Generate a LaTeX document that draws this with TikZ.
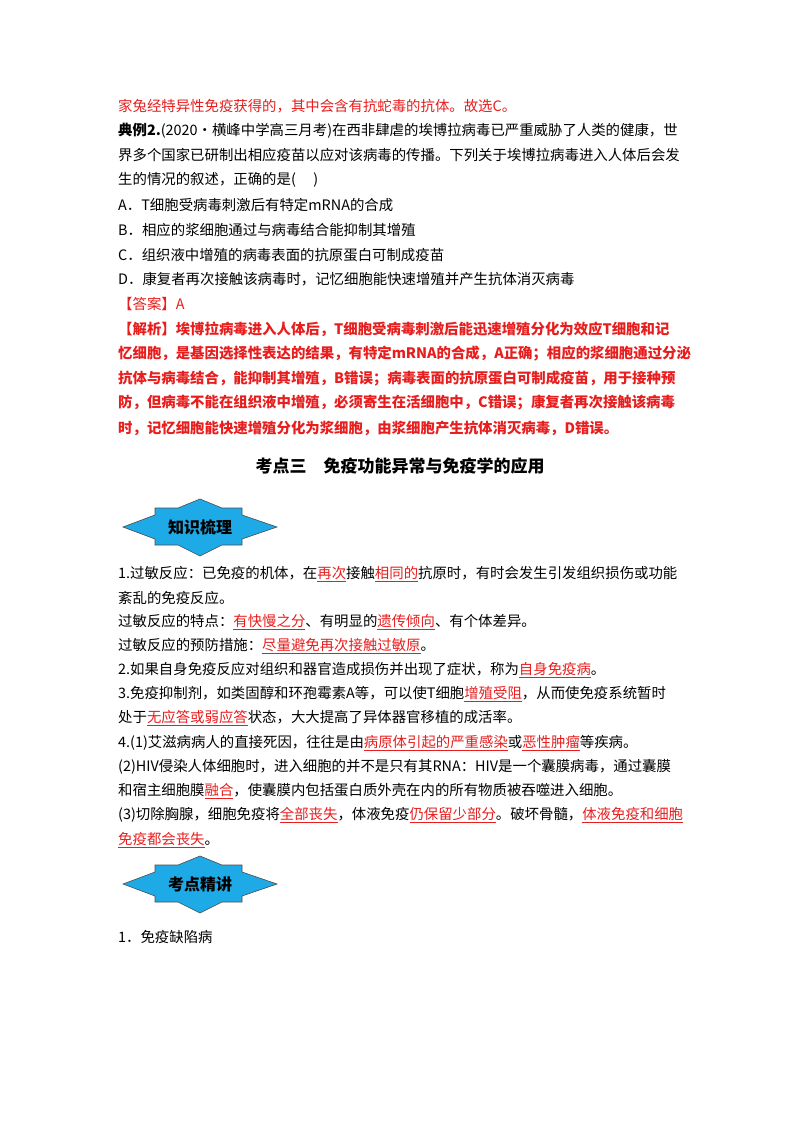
\documentclass[tikz,border=0pt]{standalone}
\usepackage{fontspec}
\setmainfont{Noto Sans CJK SC}
\definecolor{rd}{RGB}{232,30,30}
\definecolor{bn}{RGB}{30,170,230}
\newcommand{\ru}[1]{\textcolor{rd}{\underline{#1}}}
\begin{document}
\begin{tikzpicture}[x=1pt,y=-1pt,
 ln/.style={anchor=west,inner sep=0pt,font=\fontsize{14.4}{14.4}\selectfont},
 rl/.style={ln,text=rd},
 ban/.style={fill=bn,draw=black!70,line width=0.6pt}]
\useasboundingbox (0,0) rectangle (800,1132);
\fill[white] (0,0) rectangle (800,1132);
\node[rl] (l1) at (118,106) {家兔经特异性免疫获得的，其中会含有抗蛇毒的抗体。故选C。};
\node[ln] (l2) at (118,131) {\textbf{典例2.}(2020·横峰中学高三月考)在西非肆虐的埃博拉病毒已严重威胁了人类的健康，世};
\node[ln] (l3) at (118,155) {界多个国家已研制出相应疫苗以应对该病毒的传播。下列关于埃博拉病毒进入人体后会发};
\node[ln] (l4) at (118,180) {生的情况的叙述，正确的是(\quad\ )};
\node[ln] (l5) at (118,205) {A．T细胞受病毒刺激后有特定mRNA的合成};
\node[ln] (l6) at (118,230) {B．相应的浆细胞通过与病毒结合能抑制其增殖};
\node[ln] (l7) at (118,255) {C．组织液中增殖的病毒表面的抗原蛋白可制成疫苗};
\node[ln] (l8) at (118,279) {D．康复者再次接触该病毒时，记忆细胞能快速增殖并产生抗体消灭病毒};
\node[rl] (l9) at (118,304) {【答案】A};
\node[rl] (l10) at (118,329) {\textbf{【解析】埃博拉病毒进入人体后，T细胞受病毒刺激后能迅速增殖分化为效应T细胞和记}};
\node[rl] (l11) at (118,354) {\textbf{忆细胞，是基因选择性表达的结果，有特定mRNA的合成，A正确；相应的浆细胞通过分泌}};
\node[rl] (l12) at (118,379) {\textbf{抗体与病毒结合，能抑制其增殖，B错误；病毒表面的抗原蛋白可制成疫苗，用于接种预}};
\node[rl] (l13) at (118,403) {\textbf{防，但病毒不能在组织液中增殖，必须寄生在活细胞中，C错误；康复者再次接触该病毒}};
\node[rl] (l14) at (118,428) {\textbf{时，记忆细胞能快速增殖分化为浆细胞，由浆细胞产生抗体消灭病毒，D错误。}};
\node[ln,anchor=center,font=\fontsize{17}{17}\selectfont\bfseries] (t) at (400,466) {考点三\quad 免疫功能异常与免疫学的应用};
\foreach \y/\txt/\nm in {527/知识梳理/b1, 884/考点精讲/b2}{
 \path[ban] (123,\y) -- (155,\y-12) -- (155,\y-19) -- (178,\y-19) -- (200,\y-28) -- (222,\y-19) -- (242,\y-19) -- (242,\y-12) -- (277,\y)
   -- (242,\y+12) -- (242,\y+18) -- (222,\y+18) -- (200,\y+29) -- (178,\y+18) -- (155,\y+18) -- (155,\y+12) -- cycle;
 \node[font=\fontsize{16}{16}\selectfont\bfseries,inner sep=0pt] (\nm) at (200,\y) {\txt};
}
\node[ln] (m1) at (118,574) {1.过敏反应：已免疫的机体，在\ru{再次}接触\ru{相同的}抗原时，有时会发生引发组织损伤或功能};
\node[ln] (m2) at (118,598) {紊乱的免疫反应。};
\node[ln] (m3) at (118,622) {过敏反应的特点：\ru{有快慢之分}、有明显的\ru{遗传倾向}、有个体差异。};
\node[ln] (m4) at (118,646) {过敏反应的预防措施：\ru{尽量避免再次接触过敏原}。};
\node[ln] (m5) at (118,670) {2.如果自身免疫反应对组织和器官造成损伤并出现了症状，称为\ru{自身免疫病}。};
\node[ln] (m6) at (118,694) {3.免疫抑制剂，如类固醇和环孢霉素A等，可以使T细胞\ru{增殖受阻}，从而使免疫系统暂时};
\node[ln] (m7) at (118,718) {处于\ru{无应答或弱应答}状态，大大提高了异体器官移植的成活率。};
\node[ln] (m8) at (118,743) {4.(1)艾滋病病人的直接死因，往往是由\ru{病原体引起的严重感染}或\ru{恶性肿瘤}等疾病。};
\node[ln] (m9) at (118,767) {(2)HIV侵染人体细胞时，进入细胞的并不是只有其RNA：HIV是一个囊膜病毒，通过囊膜};
\node[ln] (m10) at (118,791) {和宿主细胞膜\ru{融合}，使囊膜内包括蛋白质外壳在内的所有物质被吞噬进入细胞。};
\node[ln] (m11) at (118,815) {(3)切除胸腺，细胞免疫将\ru{全部丧失}，体液免疫\ru{仍保留少部分}。破坏骨髓，\ru{体液免疫和细胞}};
\node[ln] (m12) at (118,840) {\ru{免疫都会丧失}。};
\node[ln] (m13) at (118,937) {1．免疫缺陷病};
\end{tikzpicture}
\end{document}
